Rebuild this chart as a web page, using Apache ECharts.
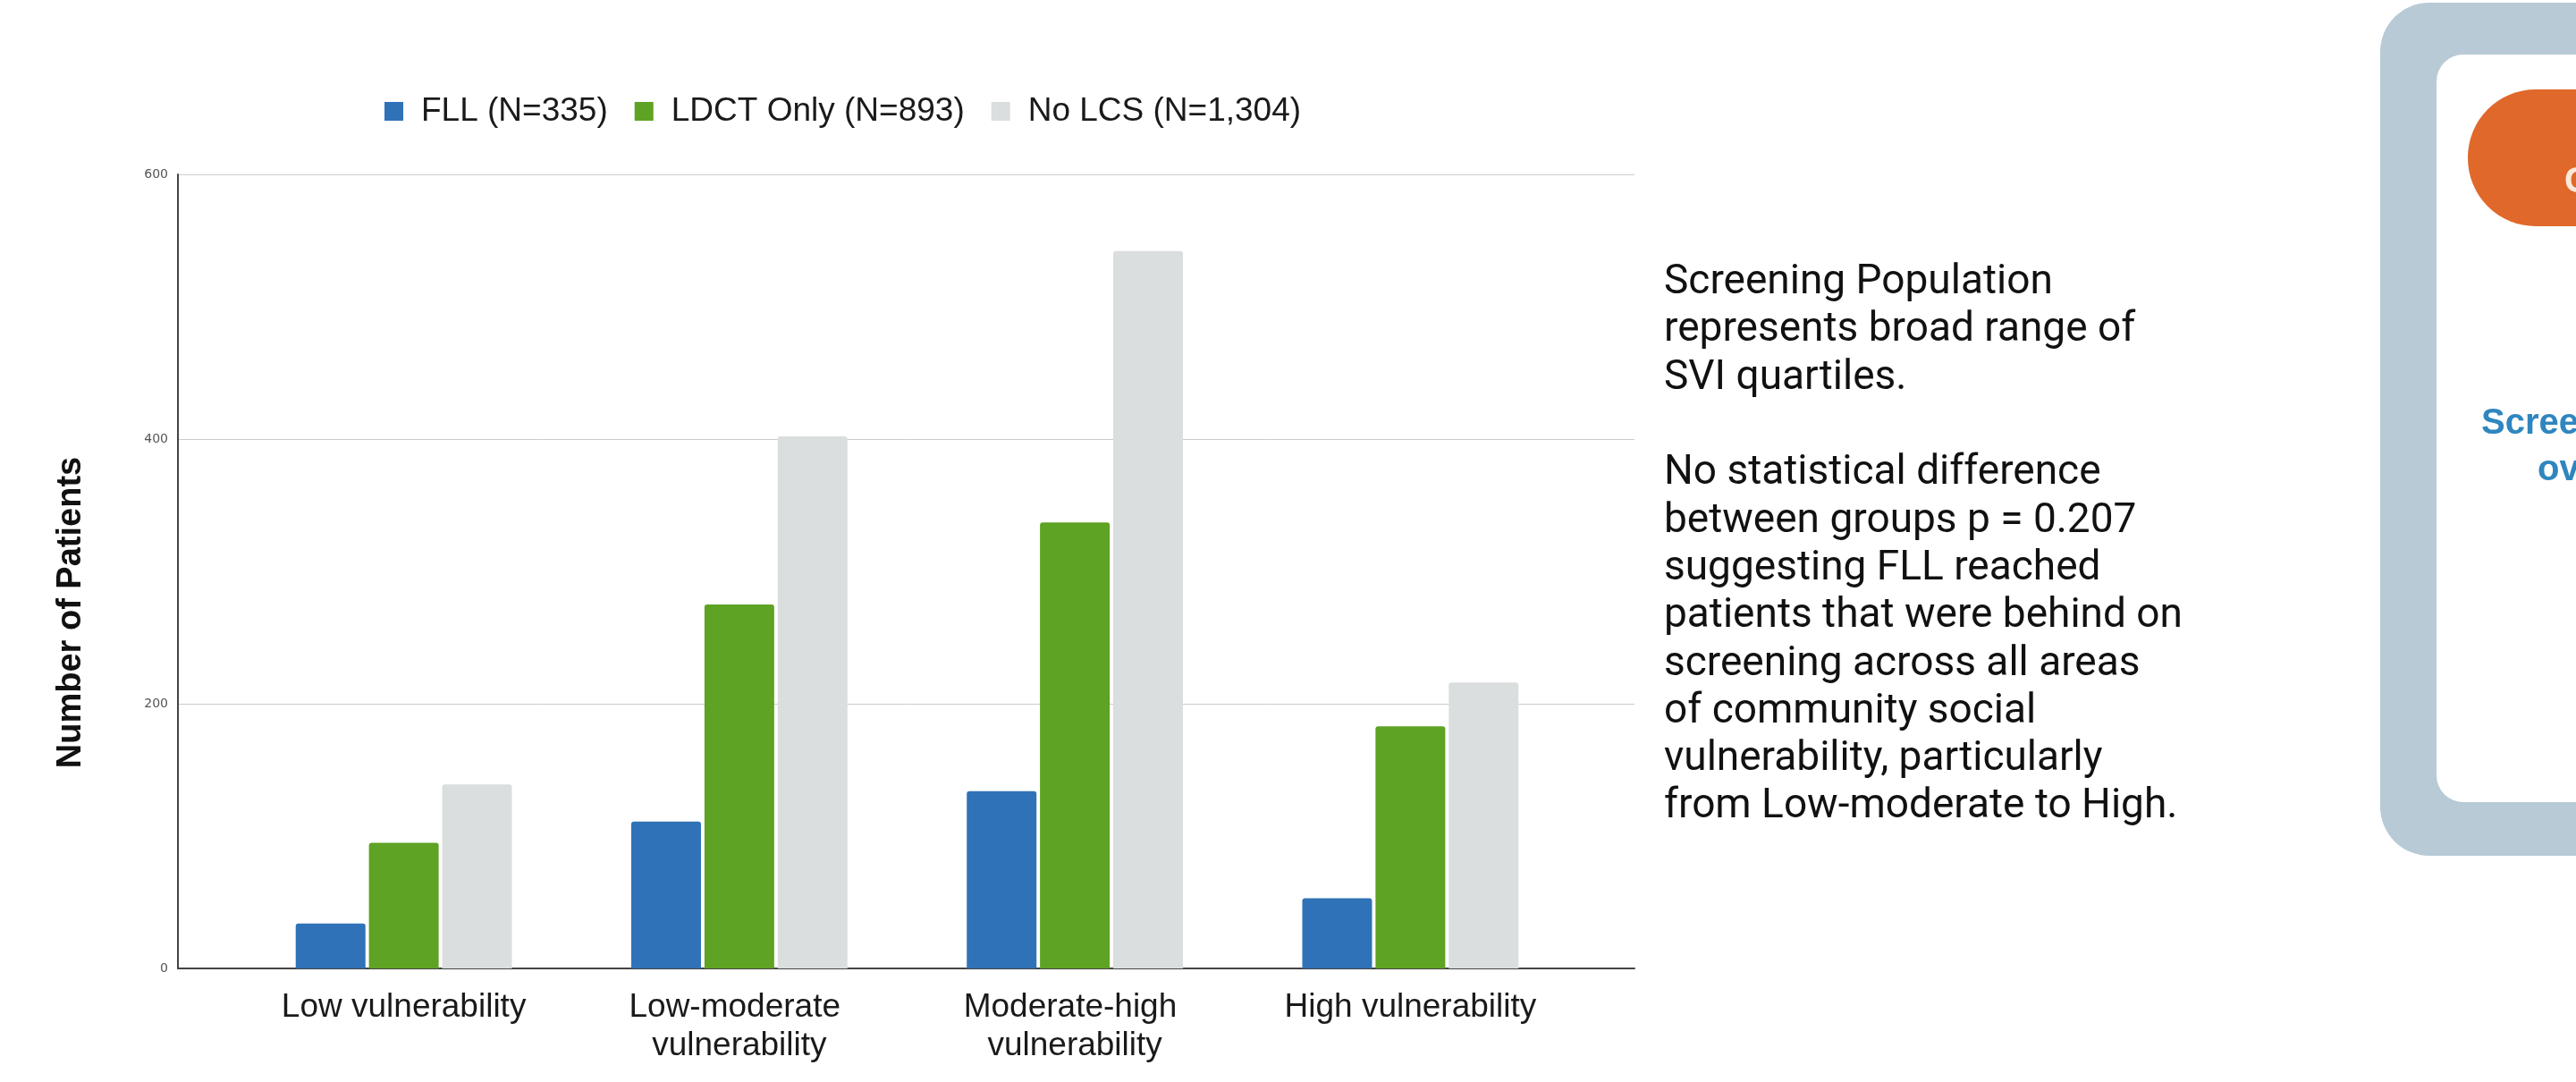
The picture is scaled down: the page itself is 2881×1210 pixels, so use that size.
<!DOCTYPE html>
<html>
<head>
<meta charset="utf-8">
<script src="https://cdn.jsdelivr.net/npm/echarts@6/dist/echarts.min.js"></script>
<style>
html,body{margin:0;padding:0;background:#fff;}
#chart{width:2881px;height:1210px;}
</style>
</head>
<body>
<div id="chart"></div>
<script>
// ---- data ----
const categories = ['Low vulnerability', 'Low-moderate vulnerability', 'Moderate-high vulnerability', 'High vulnerability'];
const seriesNames = ['FLL (N=335)', 'LDCT Only (N=893)', 'No LCS (N=1,304)'];
const fllValues = [34, 111, 134, 53];
const ldctValues = [95, 275, 337, 183];
const noLcsValues = [139, 402, 542, 216];
const yMin = 0, yMax = 600, yStep = 200;
const yAxisTitle = 'Number of Patients';
const noteLines = [
  'Screening Population',
  'represents broad range of',
  'SVI quartiles.',
  '',
  'No statistical difference',
  'between groups p = 0.207',
  'suggesting FLL reached',
  'patients that were behind on',
  'screening across all areas',
  'of community social',
  'vulnerability, particularly',
  'from Low-moderate to High.'
];
const panelTitle = 'Conclusion';
const panelLines = ['Screening', 'over'];

// ---- styles ----
const colors = ['#3072b7', '#5ea323', '#dbdede'];
const chart = echarts.init(document.getElementById('chart'), null, {renderer: 'canvas'});
const seriesValues = [fllValues, ldctValues, noLcsValues];

const option = {
  backgroundColor: '#ffffff',
  animation: false,
  color: colors,
  legend: {
    left: 425, top: 101,
    itemWidth: 21, itemHeight: 21, itemGap: 30,
    icon: 'rect',
    data: seriesNames,
    textStyle: {fontFamily: 'Liberation Sans, Arial, sans-serif', fontSize: 37, color: '#1a1a1a', padding: [0, 0, 0, 15]}
  },
  grid: [
    {left: 199, right: 1053, top: 195, bottom: 127, containLabel: false},
    {left: 264, right: 1116, top: 195, bottom: 127, containLabel: false}
  ],
  xAxis: [
    {
      type: 'value', gridIndex: 0, min: 0, max: 1,
      axisLine: {show: true, lineStyle: {color: '#444', width: 2}},
      axisTick: {show: false}, axisLabel: {show: false}, splitLine: {show: false}
    },
    {
      type: 'category', gridIndex: 1, data: categories,
      axisLine: {show: false}, axisTick: {show: false}, splitLine: {show: false},
      axisLabel: {
        margin: 22, interval: 0,
        fontFamily: 'Liberation Sans, Arial, sans-serif', fontSize: 37, lineHeight: 43,
        color: '#1a1a1a', width: 330, overflow: 'break', align: 'center'
      }
    }
  ],
  yAxis: [
    {
      type: 'value', gridIndex: 0, min: yMin, max: yMax, interval: yStep,
      axisLine: {show: true, lineStyle: {color: '#444', width: 2}},
      axisTick: {show: false},
      axisLabel: {margin: 11, fontFamily: 'DejaVu Sans, sans-serif', fontSize: 14, color: '#555'},
      splitLine: {show: true, lineStyle: {color: '#cccccc', width: 1}}
    },
    {
      type: 'value', gridIndex: 1, min: yMin, max: yMax, interval: yStep, show: false,
      splitLine: {show: false}
    }
  ],
  series: seriesNames.map((name, i) => ({
    name: name,
    type: 'bar',
    xAxisIndex: 1, yAxisIndex: 1,
    data: seriesValues[i],
    barWidth: 78,
    barGap: '5%',
    itemStyle: {color: colors[i], borderRadius: [3, 3, 0, 0]}
  })),
  graphic: [
    {
      type: 'text', x: 80, y: 685, rotation: Math.PI / 2,
      style: {text: yAxisTitle, font: 'bold 38px "Liberation Sans", Arial, sans-serif', fill: '#111', align: 'center', verticalAlign: 'middle'}
    },
    {
      type: 'text', x: 1861, y: 290,
      style: {text: noteLines.join('\n'), font: '46px Roboto, "Noto Sans", sans-serif', lineHeight: 53.3, fill: '#111', align: 'left', verticalAlign: 'top'}
    },
    {
      type: 'rect', shape: {x: 2662, y: 3, width: 400, height: 954, r: 55},
      style: {fill: '#b7cad6'}
    },
    {
      type: 'rect', shape: {x: 2725, y: 61, width: 300, height: 836, r: 30},
      style: {fill: '#ffffff'}
    },
    {
      type: 'rect', shape: {x: 2760, y: 100, width: 300, height: 153, r: 76},
      style: {fill: '#e0682a'}
    },
    {
      type: 'text', x: 2868, y: 204,
      style: {text: panelTitle, font: 'bold 40px "Liberation Sans", Arial, sans-serif', fill: '#fbe9dc', align: 'left', verticalAlign: 'middle'}
    },
    {
      type: 'text', x: 2775, y: 474,
      style: {text: panelLines[0], font: 'bold 40px "Liberation Sans", Arial, sans-serif', fill: '#2f86bf', align: 'left', verticalAlign: 'middle'}
    },
    {
      type: 'text', x: 2838, y: 526,
      style: {text: panelLines[1], font: 'bold 40px "Liberation Sans", Arial, sans-serif', fill: '#2f86bf', align: 'left', verticalAlign: 'middle'}
    }
  ]
};
chart.setOption(option);
</script>
</body>
</html>
